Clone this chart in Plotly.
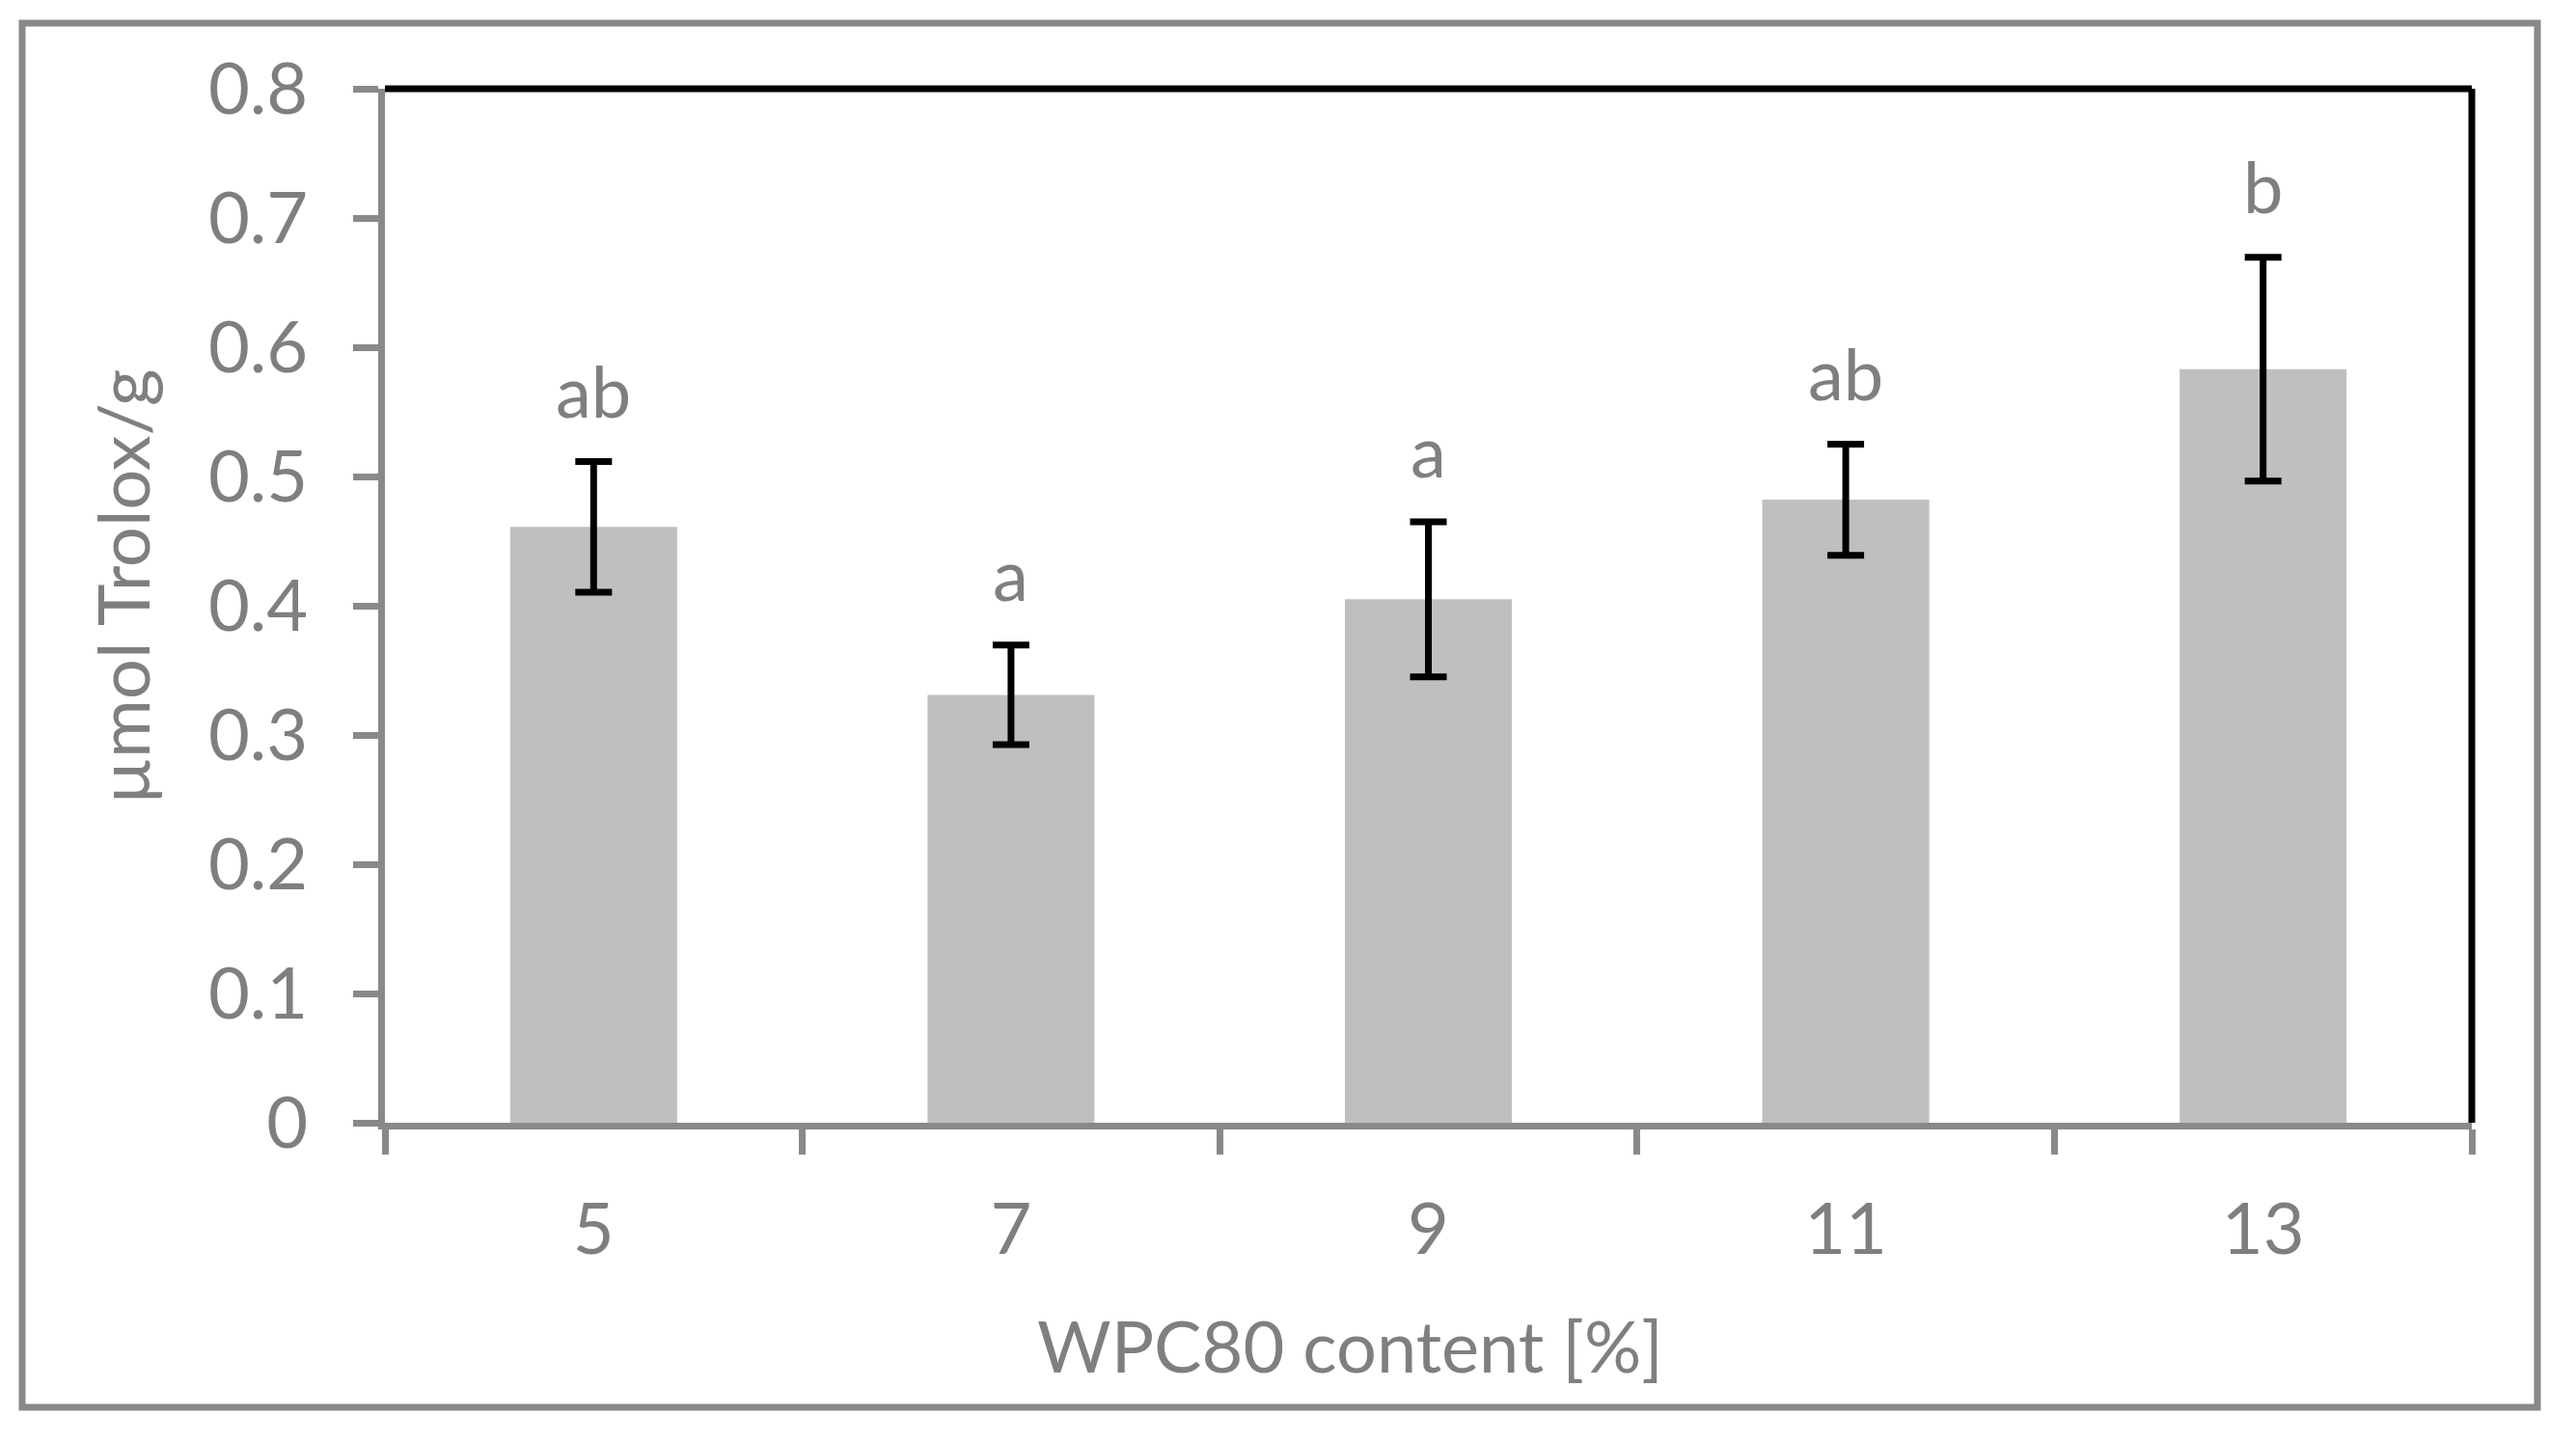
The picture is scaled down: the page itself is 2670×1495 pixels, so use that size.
import plotly.graph_objects as go

# ---- data ----
categories = ["5", "7", "9", "11", "13"]
means = [0.461, 0.331, 0.405, 0.482, 0.583]
errors = [0.0505, 0.0385, 0.060, 0.043, 0.0865]
letters = ["ab", "a", "a", "ab", "b"]
y_tickvals = [0, 0.1, 0.2, 0.3, 0.4, 0.5, 0.6, 0.7, 0.8]
y_ticktext = ["0", "0.1", "0.2", "0.3", "0.4", "0.5", "0.6", "0.7", "0.8"]
x_title = "WPC80 content [%]"
y_title = "µmol Trolox/g"

# ---- layout geometry (page body has an 8px default margin) ----
W, H = 2670, 1495
OFF = 8
PW, PH = 2163, 1072
L, T = 399 - OFF, 92 - OFF
R, B = W - L - PW, H - T - PH

def px_x(px):
    return (px - OFF - L) / PW

def px_y(py):
    return (T + PH - (py - OFF)) / PH

FONT = "Lato"
TXT = "#7F7F7F"
LINE = "#898989"
FS = 74

fig = go.Figure()
fig.add_trace(go.Bar(
    x=categories, y=means, width=0.4,
    marker=dict(color="#BFBFBF", line=dict(width=0)),
    error_y=dict(type="data", array=errors, visible=True,
                 color="black", thickness=7, width=19),
    showlegend=False,
))

annotations = []
for i, (m, e, t) in enumerate(zip(means, errors, letters)):
    annotations.append(dict(
        x=i, y=m + e, xref="x", yref="y", text=t, showarrow=False,
        yanchor="middle", xanchor="center", yshift=74,
        font=dict(family=FONT, size=FS, color=TXT),
    ))

annotations.append(dict(
    x=px_x(1399), y=px_y(1394), xref="paper", yref="paper",
    text=x_title, showarrow=False, xanchor="center", yanchor="middle",
    font=dict(family=FONT, size=FS, color=TXT),
))
annotations.append(dict(
    x=px_x(126), y=px_y(609), xref="paper", yref="paper",
    text=y_title, showarrow=False, xanchor="center", yanchor="middle",
    textangle=-90,
    font=dict(family=FONT, size=FS, color=TXT),
))

shapes = [
    # outer chart border
    dict(type="rect", xref="paper", yref="paper",
         x0=px_x(23), x1=px_x(2630), y0=px_y(1459), y1=px_y(24),
         line=dict(color=LINE, width=7), fillcolor="rgba(0,0,0,0)", layer="below"),
    # black top and right plot borders
    dict(type="line", xref="paper", yref="paper", x0=0, x1=1, y0=1, y1=1,
         line=dict(color="black", width=7)),
    dict(type="line", xref="paper", yref="paper", x0=1, x1=1, y0=0, y1=1,
         line=dict(color="black", width=7)),
]

fig.update_layout(
    width=W, height=H,
    margin=dict(l=L, r=R, t=T, b=B, pad=0),
    paper_bgcolor="white", plot_bgcolor="white",
    font=dict(family=FONT, size=FS, color=TXT),
    annotations=annotations, shapes=shapes,
    bargap=0.6,
)
fig.update_xaxes(
    type="category", range=[-0.5, len(categories) - 0.5], autorange=False,
    showgrid=False, zeroline=False,
    showline=True, linecolor=LINE, linewidth=7,
    ticks="outside", tickson="boundaries", ticklen=26, tickwidth=7, tickcolor=LINE,
    tickfont=dict(family=FONT, size=FS, color=TXT),
    ticklabelstandoff=40,
)
fig.update_yaxes(
    range=[0, 0.8], showgrid=False, zeroline=False,
    showline=True, linecolor=LINE, linewidth=7,
    ticks="outside", ticklen=26, tickwidth=7, tickcolor=LINE,
    tickvals=y_tickvals, ticktext=y_ticktext,
    tickfont=dict(family=FONT, size=FS, color=TXT),
    ticklabelstandoff=32,
)

fig.write_html("out.html")
